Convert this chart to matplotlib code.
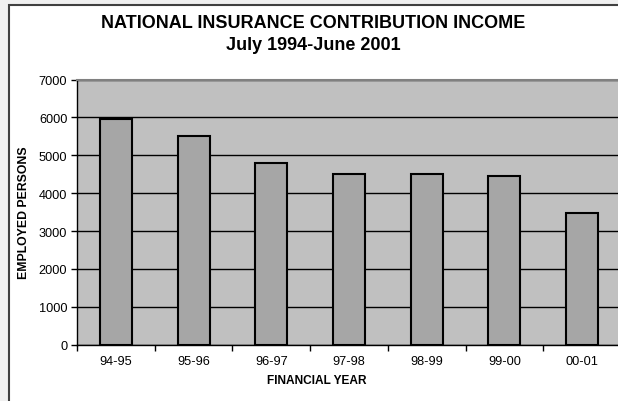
import matplotlib.pyplot as plt
from matplotlib.patches import Rectangle
from matplotlib.ticker import FixedLocator, NullFormatter

plt.rcParams['font.family'] = ['Liberation Sans', 'DejaVu Sans']

years = ["94-95", "95-96", "96-97", "97-98", "98-99", "99-00", "00-01"]
persons = [5970, 5500, 4800, 4500, 4500, 4460, 3480]
yticks = [0, 1000, 2000, 3000, 4000, 5000, 6000, 7000]

W, H = 618, 402
fig = plt.figure(figsize=(W / 100, H / 100), dpi=100, facecolor='#f0f0f0')

# white chart area with dark frame, running off the right/bottom edges
fig.patches.append(Rectangle((8.5 / W, -0.1), 1.2, 1.1 - 5.5 / H,
                             transform=fig.transFigure, facecolor='white',
                             edgecolor='#404040', lw=1.5, zorder=-1))

left, right, top, bottom = 77, 621, 80.5, 345.7
ax = fig.add_axes([left / W, 1 - bottom / H, (right - left) / W, (bottom - top) / H])
ax.set_zorder(2)
ax.set_facecolor('#c0c0c0')

x = range(len(years))
ax.bar(x, persons, width=0.41, color='#a6a6a6', edgecolor='black', linewidth=1.5, zorder=3)

ax.set_xlim(-0.5, len(years) - 0.5)
ax.set_ylim(0, 7000)
ax.set_yticks(yticks)
ax.yaxis.grid(True, color='black', linewidth=1)
ax.set_axisbelow(True)

# category boundaries carry the tick marks, labels sit at the centres
ax.xaxis.set_major_locator(FixedLocator([i + 0.5 for i in range(-1, len(years))]))
ax.xaxis.set_major_formatter(NullFormatter())
ax.xaxis.set_minor_locator(FixedLocator(list(x)))
ax.set_xticklabels(years, minor=True)
ax.tick_params(axis='x', which='major', length=4, width=1, color='black', direction='out')
ax.tick_params(axis='x', which='minor', length=0, pad=7.5, labelsize=9.2)
ax.tick_params(axis='y', length=4, width=1, direction='out', pad=3, labelsize=9.2)

for side in ('left', 'bottom'):
    ax.spines[side].set_color('black')
    ax.spines[side].set_linewidth(1)
ax.spines['top'].set_color('#808080')
ax.spines['top'].set_linewidth(1.5)
ax.spines['right'].set_visible(False)

fig.text(313 / W, 1 - 28.5 / H, "NATIONAL INSURANCE CONTRIBUTION INCOME",
         ha='center', va='baseline', fontsize=13, fontweight='bold')
fig.text(313 / W, 1 - 49.5 / H, "July 1994-June 2001",
         ha='center', va='baseline', fontsize=13, fontweight='bold')
fig.text(24 / W, 1 - 213 / H, "EMPLOYED PERSONS", rotation=90,
         ha='center', va='center', fontsize=8.8, fontweight='bold')
fig.text(317 / W, 1 - 381 / H, "FINANCIAL YEAR",
         ha='center', va='center', fontsize=8.6, fontweight='bold')

fig.savefig('out.png', dpi=100, facecolor=fig.get_facecolor())
